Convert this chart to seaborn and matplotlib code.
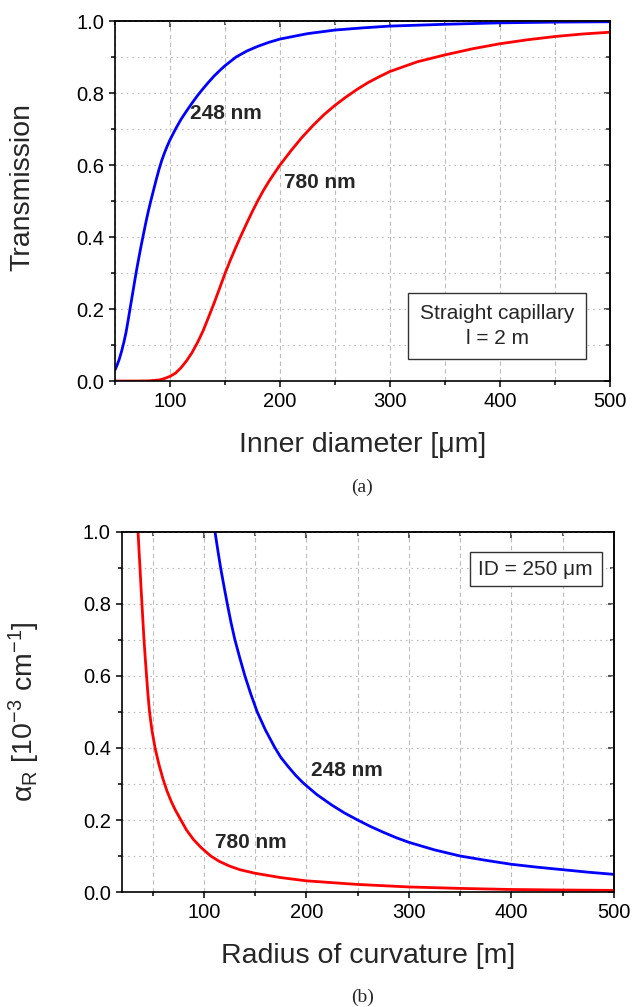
import numpy as np
import pandas as pd
import matplotlib
matplotlib.use("Agg")
import matplotlib.pyplot as plt
from matplotlib.ticker import MultipleLocator, FormatStrFormatter
from matplotlib.patches import Rectangle
import seaborn as sns

# ---- (a) transmission vs inner diameter, straight capillary l = 2 m
d_248 = [50, 52, 54, 56, 58, 60, 62, 64, 66, 68, 70, 72, 74, 76, 78, 80, 82.5, 85,
         87.5, 90, 92.5, 95, 97.5, 100, 105, 110, 115, 120, 125, 130, 135, 140, 145,
         150, 160, 170, 180, 190, 200, 225, 250, 275, 300, 350, 400, 450, 500]
t_248 = [0.031, 0.045, 0.062, 0.083, 0.107, 0.135, 0.17, 0.207, 0.243, 0.28, 0.315,
         0.348, 0.38, 0.41, 0.44, 0.468, 0.50, 0.53, 0.56, 0.588, 0.613, 0.634, 0.653,
         0.67, 0.70, 0.727, 0.75, 0.772, 0.793, 0.812, 0.83, 0.847, 0.862, 0.876, 0.90,
         0.917, 0.93, 0.941, 0.95, 0.965, 0.975, 0.981, 0.986, 0.991, 0.995, 0.997, 0.998]

d_780 = [50, 70, 80, 85, 90, 95, 100, 105, 110, 115, 120, 125, 130, 135, 140, 145, 150,
         155, 160, 165, 170, 175, 180, 185, 190, 195, 200, 210, 220, 230, 240, 250, 260,
         270, 280, 290, 300, 325, 350, 375, 400, 425, 450, 475, 500]
t_780 = [0.0, 0.0, 0.0005, 0.0015, 0.003, 0.007, 0.013, 0.022, 0.037, 0.056, 0.079,
         0.107, 0.139, 0.177, 0.216, 0.257, 0.299, 0.337, 0.373, 0.407, 0.44, 0.472,
         0.502, 0.53, 0.555, 0.578, 0.60, 0.64, 0.677, 0.71, 0.74, 0.766, 0.789, 0.81,
         0.829, 0.845, 0.86, 0.887, 0.906, 0.923, 0.937, 0.948, 0.957, 0.964, 0.969]

# ---- (b) bending loss vs radius of curvature, ID = 250 um
r_248 = [110.8, 113.5, 116.3, 119.5, 122.8, 126.3, 130, 134.8, 140, 145.7, 152, 160,
         169, 175, 182, 189.5, 197.2, 210, 225, 237.5, 250, 262.5, 275, 287.5, 300,
         325, 350, 375, 400, 425, 450, 475, 500]
a_248 = [1.0, 0.95, 0.9, 0.85, 0.8, 0.75, 0.703, 0.652, 0.6, 0.55, 0.5, 0.45,
         0.402, 0.374, 0.349, 0.324, 0.302, 0.271, 0.241, 0.219, 0.2, 0.182, 0.166, 0.151,
         0.138, 0.117, 0.10, 0.088, 0.077, 0.069, 0.062, 0.055, 0.049]

r_780 = [35.7, 36.6, 37.6, 38.5, 39.5, 40.5, 41.5, 42.7, 44.0, 45.3, 46.9, 49.2, 52.3,
         56, 60, 64, 68, 72, 77.5, 83, 90, 97, 106.6, 115, 125, 135, 150, 175, 200,
         250, 300, 350, 400, 450, 500]
a_780 = [1.0, 0.95, 0.9, 0.85, 0.8, 0.75, 0.7, 0.65, 0.6, 0.55, 0.5, 0.45, 0.4,
         0.355, 0.314, 0.28, 0.252, 0.228, 0.2, 0.172, 0.145, 0.124, 0.1, 0.085, 0.072,
         0.062, 0.052, 0.04, 0.031, 0.021, 0.014, 0.010, 0.007, 0.0055, 0.0045]

df_a = pd.concat([
    pd.DataFrame({"x": d_248, "y": t_248, "wl": "248 nm"}),
    pd.DataFrame({"x": d_780, "y": t_780, "wl": "780 nm"}),
])
df_b = pd.concat([
    pd.DataFrame({"x": r_248, "y": a_248, "wl": "248 nm"}),
    pd.DataFrame({"x": r_780, "y": a_780, "wl": "780 nm"}),
])

sns.set_style("white")
plt.rcParams["font.family"] = ["Liberation Sans", "DejaVu Sans"]
plt.rcParams["mathtext.fontset"] = "custom"
plt.rcParams["mathtext.rm"] = "Liberation Sans"
plt.rcParams["mathtext.it"] = "Liberation Sans:italic"

pal = {"248 nm": "#0000ff", "780 nm": "#ff0000"}

fig = plt.figure(figsize=(6.33, 10.07), dpi=100)
ax1 = fig.add_axes([0.1817, 0.6216, 0.782, 0.3575])
ax2 = fig.add_axes([0.1927, 0.1142, 0.777, 0.3575])


def style_axes(ax, xmin):
    ax.set_xlim(xmin, 500)
    ax.set_ylim(0, 1.0)
    ax.xaxis.set_major_locator(MultipleLocator(100))
    ax.xaxis.set_minor_locator(MultipleLocator(50))
    ax.yaxis.set_major_locator(MultipleLocator(0.2))
    ax.yaxis.set_minor_locator(MultipleLocator(0.1))
    ax.yaxis.set_major_formatter(FormatStrFormatter("%.1f"))
    ax.xaxis.grid(True, which="both", color="#bdbdbd", lw=0.8, ls=(0, (4, 3)))
    ax.yaxis.grid(True, which="both", color="#bdbdbd", lw=0.8, ls=(0, (1.5, 3.5)))
    ax.set_axisbelow(True)
    for s in ax.spines.values():
        s.set_visible(True)
        s.set_color("black")
        s.set_linewidth(1.2)
    ax.tick_params(which="both", direction="out", bottom=True, left=True,
                   top=False, right=False, labelsize=14.5, width=1.1, colors="black")
    ax.tick_params(which="major", length=4.5)
    ax.tick_params(which="minor", length=3)
    # mirrored inward ticks on top and right
    top = ax.secondary_xaxis("top")
    top.xaxis.set_major_locator(MultipleLocator(100))
    top.xaxis.set_minor_locator(MultipleLocator(50))
    top.tick_params(which="both", direction="in", labeltop=False, width=1.1)
    top.tick_params(which="major", length=4.5)
    top.tick_params(which="minor", length=3)
    top.spines["top"].set_linewidth(1.2)
    right = ax.secondary_yaxis("right")
    right.yaxis.set_major_locator(MultipleLocator(0.2))
    right.yaxis.set_minor_locator(MultipleLocator(0.1))
    right.tick_params(which="both", direction="in", labelright=False, width=1.1)
    right.tick_params(which="major", length=4.5)
    right.tick_params(which="minor", length=3)
    right.spines["right"].set_linewidth(1.2)


# panel (a)
sns.lineplot(data=df_a, x="x", y="y", hue="wl", palette=pal, lw=2.0,
             legend=False, sort=False, estimator=None, ax=ax1)
style_axes(ax1, 50)
ax1.set_xlabel("Inner diameter [μm]", fontsize=20.5, labelpad=15)
ax1.set_ylabel("Transmission", fontsize=20.5)
ax1.yaxis.set_label_coords(-0.16, 0.54)
ax1.text(151, 0.742, "248 nm", fontsize=15, fontweight="bold", ha="center", va="center")
ax1.text(236.5, 0.551, "780 nm", fontsize=15, fontweight="bold", ha="center", va="center")
ax1.add_patch(Rectangle((0.592, 0.061), 0.3595, 0.183, transform=ax1.transAxes,
                        facecolor="white", edgecolor="#333333", lw=1.0, zorder=5))
ax1.text(0.772, 0.189, "Straight capillary", transform=ax1.transAxes, fontsize=15,
         ha="center", va="center", zorder=6)
ax1.text(0.772, 0.119, "l = 2 m", transform=ax1.transAxes, fontsize=15,
         ha="center", va="center", zorder=6)

# panel (b)
sns.lineplot(data=df_b, x="x", y="y", hue="wl", palette=pal, lw=2.0,
             legend=False, sort=False, estimator=None, ax=ax2)
style_axes(ax2, 20)
ax2.set_xlabel("Radius of curvature [m]", fontsize=20.5, labelpad=15)
ax2.set_ylabel(r"$\mathregular{α_R\ [10^{-3}\ cm^{-1}]}$", fontsize=20.5)
ax2.yaxis.set_label_coords(-0.163, 0.5)
ax2.text(239, 0.3375, "248 nm", fontsize=15, fontweight="bold", ha="center", va="center")
ax2.text(146, 0.1375, "780 nm", fontsize=15, fontweight="bold", ha="center", va="center")
ax2.add_patch(Rectangle((0.707, 0.85), 0.269, 0.094, transform=ax2.transAxes,
                        facecolor="white", edgecolor="#333333", lw=1.0, zorder=5))
ax2.text(0.841, 0.897, "ID = 250 μm", transform=ax2.transAxes, fontsize=15,
         ha="center", va="center", zorder=6)

fig.text(362 / 633, 1 - 487 / 1007, "(a)", fontsize=14, family="Liberation Serif",
         ha="center", va="center")
fig.text(363 / 633, 1 - 997 / 1007, "(b)", fontsize=14, family="Liberation Serif",
         ha="center", va="center")

fig.savefig("out.png", dpi=100, facecolor="white")
